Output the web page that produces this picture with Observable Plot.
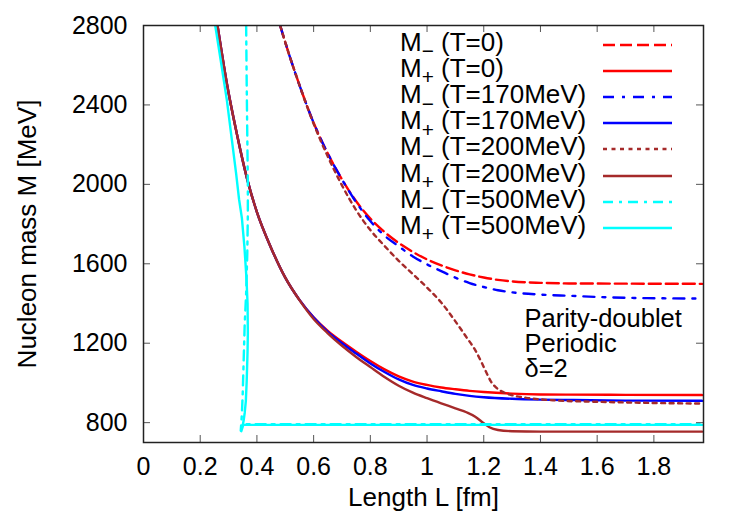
<!DOCTYPE html>
<html>
<head>
<meta charset="utf-8">
<script src="https://cdn.jsdelivr.net/npm/d3@7"></script>
<script src="https://cdn.jsdelivr.net/npm/@observablehq/plot@0.6"></script>
<style>
  body { margin: 0; background: #fff; }
  #wrap { position: relative; width: 750px; height: 525px; font-family: "Liberation Sans", Arial, sans-serif; color: #000; }
  #legend { position: absolute; left: 400px; top: 32px; }
  .row { display: flex; align-items: center; height: 26.1px; font-size: 26px; line-height: 26px; }
  .lab { width: 203px; white-space: nowrap; position: relative; top: -2px; }
  .sub { font-size: 0.8em; position: relative; top: 0.35em; }
  .row svg { display: block; }
</style>
</head>
<body>
<div id="wrap"></div>
<script>
// ---- Data : [L in fm, M in MeV] ----
const xTicks = [0, 0.2, 0.4, 0.6, 0.8, 1, 1.2, 1.4, 1.6, 1.8];
const yTicks = [800, 1200, 1600, 2000, 2400, 2800];

const mMinusT0 = [[0.482,2800],[0.5,2715],[0.55,2500],[0.6,2310],[0.65,2155],[0.7,2025],[0.75,1915],[0.8,1828],[0.85,1760],[0.9,1705],[0.95,1660],[1.0,1622],[1.05,1592],[1.1,1567],[1.15,1547],[1.2,1531],[1.25,1519],[1.3,1511],[1.4,1504],[1.5,1501],[1.7,1500],[1.97,1499]];
const mPlusT0 = [[0.261,2800],[0.294,2508],[0.329,2256],[0.365,2030],[0.4,1860],[0.45,1680],[0.5,1530],[0.55,1418],[0.6,1330],[0.65,1262],[0.7,1207],[0.75,1157],[0.8,1110],[0.85,1068],[0.9,1033],[0.95,1007],[1.0,990],[1.05,977],[1.1,968],[1.15,960],[1.2,954],[1.3,946],[1.4,942],[1.5,941],[1.7,940],[1.97,939]];
const mMinusT170 = [[0.482,2800],[0.5,2715],[0.55,2500],[0.6,2310],[0.65,2155],[0.7,2025],[0.75,1910],[0.8,1815],[0.85,1742],[0.9,1688],[0.95,1637],[1.0,1597],[1.05,1563],[1.1,1530],[1.15,1503],[1.2,1483],[1.25,1467],[1.3,1456],[1.4,1445],[1.5,1439],[1.6,1433],[1.73,1428],[1.97,1425]];
const mPlusT170 = [[0.261,2800],[0.294,2508],[0.329,2256],[0.365,2030],[0.4,1860],[0.45,1680],[0.5,1530],[0.55,1418],[0.6,1329],[0.65,1257],[0.7,1200],[0.75,1148],[0.8,1098],[0.85,1055],[0.9,1018],[0.95,990],[1.0,972],[1.05,958],[1.1,945],[1.15,935],[1.2,928],[1.3,920],[1.4,916],[1.5,914],[1.7,911],[1.97,910]];
const mMinusT200 = [[0.482,2800],[0.5,2715],[0.55,2500],[0.6,2305],[0.65,2140],[0.7,1995],[0.75,1870],[0.8,1770],[0.85,1690],[0.9,1615],[0.95,1548],[1.0,1480],[1.05,1405],[1.1,1310],[1.14,1228],[1.17,1165],[1.19,1110],[1.21,1050],[1.225,1008],[1.245,975],[1.27,953],[1.3,938],[1.35,925],[1.45,912],[1.6,905],[1.8,899],[1.97,896]];
const mPlusT200 = [[0.261,2800],[0.294,2508],[0.329,2256],[0.365,2030],[0.4,1860],[0.45,1680],[0.5,1530],[0.55,1417],[0.6,1322],[0.65,1250],[0.7,1187],[0.75,1131],[0.8,1080],[0.85,1030],[0.9,986],[0.95,951],[1.0,923],[1.05,897],[1.1,872],[1.141,851],[1.17,830],[1.2,797],[1.22,777],[1.25,763],[1.3,757],[1.4,755],[1.97,755]];
const mMinusT500 = [[0.362,2800],[0.364,2500],[0.366,2250],[0.368,2000],[0.368,1850],[0.366,1650],[0.362,1450],[0.357,1300],[0.353,1100],[0.35,950],[0.347,843],[0.344,780],[0.343,760],[0.349,792],[0.5,792],[1.0,792],[1.5,792],[1.97,792]];
const mPlusT500 = [[0.253,2800],[0.275,2600],[0.294,2424],[0.312,2220],[0.327,2050],[0.337,1925],[0.347,1830],[0.356,1684],[0.363,1530],[0.367,1400],[0.368,1250],[0.367,1160],[0.364,1011],[0.361,910],[0.357,850],[0.353,809],[0.347,767],[0.345,757],[0.352,789],[0.5,789],[1.0,789],[1.5,789],[1.97,789]];

const seriesData  = [mMinusT0, mPlusT0, mMinusT170, mPlusT170, mMinusT200, mPlusT200, mMinusT500, mPlusT500];
const seriesSign  = ["\u2212", "+", "\u2212", "+", "\u2212", "+", "\u2212", "+"];
const seriesTemp  = ["T=0", "T=0", "T=170MeV", "T=170MeV", "T=200MeV", "T=200MeV", "T=500MeV", "T=500MeV"];
const seriesColor = ["#ff0000", "#ff0000", "#0000ff", "#0000ff", "#a52a2a", "#a52a2a", "#00ffff", "#00ffff"];
const seriesDash  = ["12,5", null, "11,8,3,8", null, "4,4.5", null, "10,6,3,6", null];
const seriesCurve = ["monotone-x", "monotone-x", "monotone-x", "monotone-x", "monotone-x", "monotone-x", "linear", "linear"];

const annotation = "Parity-doublet\nPeriodic\n\u03b4=2";
const xLabel = "Length L [fm]";
const yLabel = "Nucleon mass M [MeV]";

// ---- Layout ----
const W = 750, H = 525, mT = 25, mR = 47, mB = 83, mL = 143;
const plotW = W - mL - mR, plotH = H - mT - mB;
const tickLen = 7;
const font = '"Liberation Sans", Arial, sans-serif';

const lineMarks = seriesData.map((data, i) => Plot.line(data, {
  x: d => d[0], y: d => d[1],
  stroke: seriesColor[i], strokeWidth: 2.4,
  strokeDasharray: seriesDash[i] || undefined,
  curve: seriesCurve[i], clip: true
}));

const chart = Plot.plot({
  width: W, height: H,
  marginTop: mT, marginRight: mR, marginBottom: mB, marginLeft: mL,
  style: { fontFamily: font, fontSize: "25px", background: "white", color: "black", overflow: "visible" },
  x: { domain: [0, 1.975] },
  y: { domain: [700, 2800] },
  marks: [
    ...lineMarks,
    Plot.tickX(xTicks, { x: d => d, insetTop: plotH - tickLen, stroke: "#555", strokeWidth: 1 }),
    Plot.tickX(xTicks, { x: d => d, insetBottom: plotH - tickLen, stroke: "#555", strokeWidth: 1 }),
    Plot.tickY(yTicks, { y: d => d, insetRight: plotW - tickLen, stroke: "#555", strokeWidth: 1 }),
    Plot.tickY(yTicks, { y: d => d, insetLeft: plotW - tickLen, stroke: "#555", strokeWidth: 1 }),
    Plot.frame({ stroke: "#222", strokeWidth: 1.5 }),
    Plot.axisX(xTicks, { tickSize: 0, tickPadding: 15, label: null, tickFormat: d => String(d), fontSize: 25 }),
    Plot.axisY(yTicks, { tickSize: 0, tickPadding: 16, label: null, tickFormat: d => String(d), fontSize: 25 }),
    Plot.text([xLabel], { text: d => d, frameAnchor: "bottom", dy: 55, fontSize: 26, lineAnchor: "middle" }),
    Plot.text([yLabel], { text: d => d, frameAnchor: "left", textAnchor: "middle", lineAnchor: "middle", dx: -116, rotate: -90, fontSize: 26 }),
    Plot.text([annotation], { text: d => d, frameAnchor: "right", textAnchor: "start", dx: -179, dy: 110, fontSize: 25.5, lineHeight: 0.98, lineAnchor: "middle" })
  ]
});

const wrap = document.getElementById("wrap");
wrap.appendChild(chart);

// ---- Legend (HTML overlay, top right inside the frame) ----
const legend = document.createElement("div");
legend.id = "legend";
seriesData.forEach((_, i) => {
  const row = document.createElement("div");
  row.className = "row";
  const lab = document.createElement("span");
  lab.className = "lab";
  lab.innerHTML = `M<span class="sub">${seriesSign[i]}</span> (${seriesTemp[i]})`;
  row.appendChild(lab);
  const ns = "http://www.w3.org/2000/svg";
  const svg = document.createElementNS(ns, "svg");
  svg.setAttribute("width", "69");
  svg.setAttribute("height", "8");
  const ln = document.createElementNS(ns, "line");
  ln.setAttribute("x1", "0"); ln.setAttribute("x2", "69");
  ln.setAttribute("y1", "4"); ln.setAttribute("y2", "4");
  ln.setAttribute("stroke", seriesColor[i]);
  ln.setAttribute("stroke-width", "2.4");
  if (seriesDash[i]) ln.setAttribute("stroke-dasharray", seriesDash[i]);
  svg.appendChild(ln);
  row.appendChild(svg);
  legend.appendChild(row);
});
wrap.appendChild(legend);
</script>
</body>
</html>
